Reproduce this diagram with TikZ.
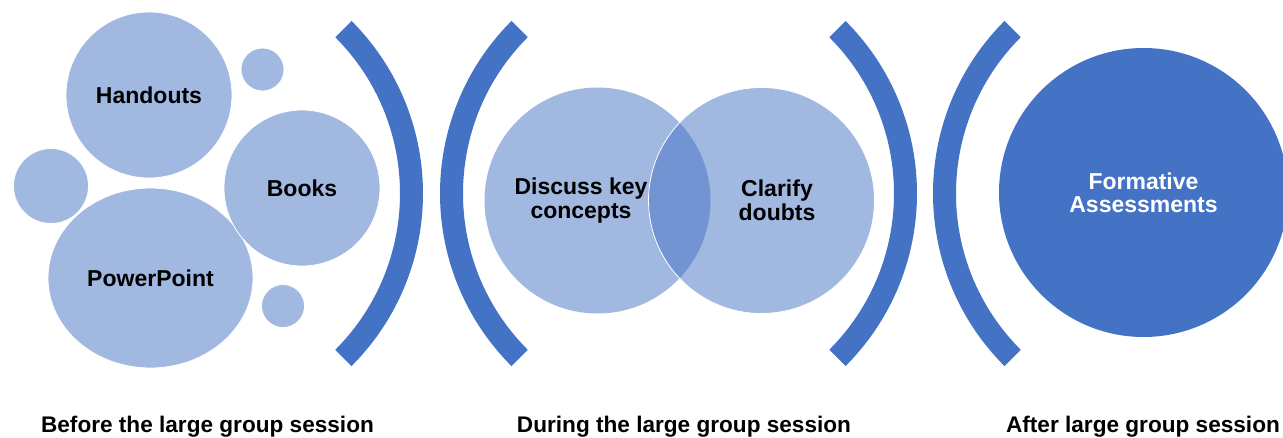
\documentclass[tikz,border=0pt]{standalone}
\usepackage{fontspec}
\setmainfont{Liberation Sans}
\usetikzlibrary{shapes.geometric}
\definecolor{accent}{RGB}{68,114,196}
\definecolor{lightb}{RGB}{161,184,225}
\tikzset{
  bub/.style={circle, fill=lightb, draw=white, line width=0.8pt, inner sep=0pt,
    font=\bfseries\fontsize{23}{24}\selectfont, text=black},
  vennc/.style={circle, fill=accent, fill opacity=0.5, minimum size=226pt, inner sep=0pt},
  txt/.style={font=\bfseries\fontsize{23}{24}\selectfont, align=center, inner sep=0pt},
  caption/.style={font=\bfseries\fontsize{22.6}{26}\selectfont, anchor=base, inner sep=0pt},
  brk/.style={fill=accent}
}
\begin{document}
\begin{tikzpicture}[x=1pt,y=-1pt]
\useasboundingbox (0,0) rectangle (1283,437);
\fill[white] (0,0) rectangle (1283,437);

% before: bubbles
\node[bub, minimum size=166pt] (h) at (149,95) {Handouts};
\node[bub, minimum size=43pt] (s1) at (262.5,69.5) {};
\node[bub, minimum size=75pt] (s2) at (51,186) {};
\node[bub, ellipse, minimum width=205pt, minimum height=180pt] (p) at (150.5,278) {PowerPoint};
\node[bub, minimum size=156pt] (b) at (302,188) {Books};
\node[bub, minimum size=43pt] (s3) at (283,306) {};

% brackets
\coordinate (bc1) at (179,193.5);
\coordinate (bc2) at (684,193.5);
\coordinate (bc3) at (673,193.5);
\coordinate (bc4) at (1177,193.5);
\fill[brk] (bc1) ++(-45:244) arc[start angle=-45, end angle=45, radius=244]
  -- ([shift={(45:221)}]bc1) arc[start angle=45, end angle=-45, radius=221] -- cycle;
\fill[brk] (bc2) ++(135:244) arc[start angle=135, end angle=225, radius=244]
  -- ([shift={(225:221)}]bc2) arc[start angle=225, end angle=135, radius=221] -- cycle;
\fill[brk] (bc3) ++(-45:244) arc[start angle=-45, end angle=45, radius=244]
  -- ([shift={(45:221)}]bc3) arc[start angle=45, end angle=-45, radius=221] -- cycle;
\fill[brk] (bc4) ++(135:244) arc[start angle=135, end angle=225, radius=244]
  -- ([shift={(225:221)}]bc4) arc[start angle=225, end angle=135, radius=221] -- cycle;

% during: venn
\node[vennc] (v1) at (597.5,200.5) {};
\node[vennc, draw=white, draw opacity=1, line width=0.8pt] (v2) at (761.5,200.5) {};
\node[txt] (t1) at ([xshift=-16.5pt]v1.center) {Discuss key\\concepts};
\node[txt] (t2) at ([xshift=15.5pt]v2.center) {Clarify\\doubts};

% after
\node[circle, fill=accent, minimum size=289pt, inner sep=0pt, text=white,
  font=\bfseries\fontsize{23}{23}\selectfont, align=center] (f) at (1143.5,192.5)
  {Formative\\Assessments};

% captions
\node[caption] (c1) at (207.5,432) {Before the large group session};
\node[caption] (c2) at (684,432) {During the large group session};
\node[caption] (c3) at (1143,432) {After large group session};
\end{tikzpicture}
\end{document}
